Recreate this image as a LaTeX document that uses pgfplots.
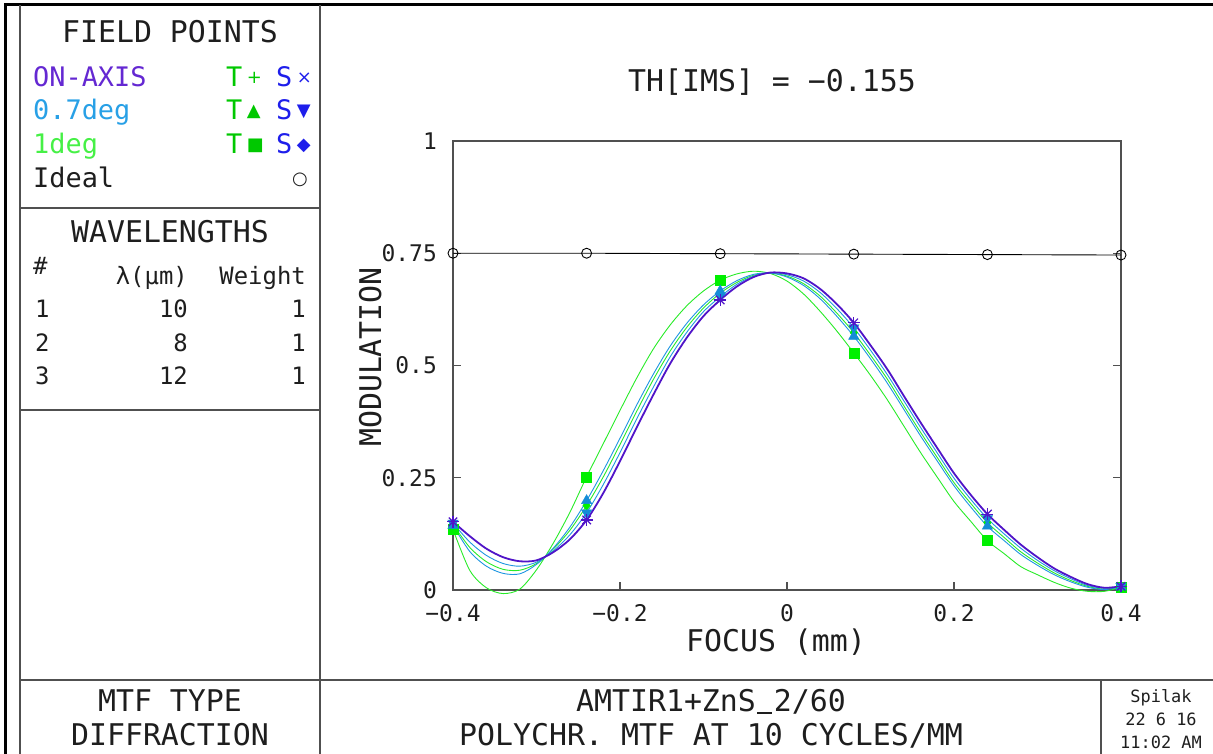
\documentclass[border=0pt]{standalone}
\usepackage{pgfplots}
\usepackage{pgfplotstable}
\pgfplotsset{compat=1.18}
\usepackage{fontspec}
\setmainfont{DejaVu Sans Mono}
\newfontfamily\symfont{DejaVu Sans}

\definecolor{onax}{RGB}{80,20,200}
\definecolor{sev}{RGB}{30,150,225}
\definecolor{one}{RGB}{40,235,40}
\definecolor{onemk}{RGB}{0,240,0}
\definecolor{sevmk}{RGB}{20,140,215}
\definecolor{onaxtxt}{RGB}{100,40,210}
\definecolor{sevtxt}{RGB}{40,160,230}
\definecolor{onetxt}{RGB}{70,240,70}
\definecolor{tgreen}{RGB}{0,200,0}
\definecolor{sblue}{RGB}{30,30,235}
\definecolor{frame}{RGB}{80,80,80}
\definecolor{txt}{RGB}{30,30,30}

\pgfplotstableread{
x P BS GS BT G
-0.40 0.152 0.149 0.146 0.144 0.135
-0.38 0.120 0.107 0.095 0.086 0.044
-0.36 0.092 0.077 0.063 0.053 0.005
-0.34 0.073 0.059 0.046 0.037 -0.008
-0.32 0.064 0.053 0.044 0.036 0.002
-0.30 0.066 0.062 0.059 0.057 0.045
-0.28 0.084 0.087 0.091 0.093 0.104
-0.26 0.113 0.123 0.133 0.140 0.173
-0.24 0.156 0.172 0.188 0.199 0.252
-0.22 0.216 0.235 0.252 0.266 0.326
-0.20 0.287 0.306 0.324 0.338 0.400
-0.18 0.362 0.381 0.398 0.412 0.472
-0.16 0.435 0.452 0.469 0.481 0.537
-0.14 0.504 0.519 0.532 0.543 0.590
-0.12 0.562 0.574 0.585 0.594 0.633
-0.10 0.610 0.620 0.628 0.635 0.666
-0.08 0.646 0.653 0.661 0.666 0.690
-0.06 0.676 0.681 0.685 0.689 0.704
-0.04 0.697 0.699 0.701 0.703 0.710
-0.02 0.707 0.707 0.706 0.706 0.705
0.00 0.705 0.702 0.699 0.697 0.688
0.02 0.694 0.688 0.682 0.678 0.659
0.04 0.670 0.662 0.654 0.648 0.620
0.06 0.636 0.626 0.616 0.609 0.576
0.08 0.595 0.584 0.573 0.565 0.528
0.10 0.545 0.534 0.523 0.515 0.478
0.12 0.492 0.480 0.470 0.461 0.424
0.14 0.432 0.421 0.410 0.402 0.365
0.16 0.373 0.362 0.351 0.343 0.306
0.18 0.316 0.305 0.295 0.287 0.251
0.20 0.260 0.249 0.239 0.232 0.197
0.22 0.212 0.202 0.193 0.185 0.153
0.24 0.169 0.159 0.150 0.142 0.110
0.26 0.134 0.125 0.117 0.110 0.081
0.28 0.101 0.093 0.085 0.079 0.052
0.30 0.073 0.066 0.060 0.055 0.034
0.32 0.048 0.043 0.038 0.034 0.017
0.34 0.029 0.025 0.021 0.018 0.004
0.36 0.013 0.010 0.008 0.006 -0.003
0.38 0.005 0.004 0.002 0.001 -0.003
0.40 0.008 0.008 0.007 0.007 0.006
}\curves

\pgfplotstableread{
x OA BT BS GT GS ID
-0.40 0.152 0.144 0.149 0.135 0.146 0.750
-0.24 0.156 0.199 0.172 0.252 0.188 0.750
-0.08 0.646 0.666 0.653 0.690 0.661 0.749
0.08 0.595 0.565 0.584 0.528 0.573 0.748
0.24 0.169 0.142 0.159 0.110 0.150 0.747
0.40 0.008 0.007 0.008 0.006 0.007 0.746
}\marks

\newcommand{\fbig}{\fontsize{30}{30}\selectfont}
\newcommand{\fmid}{\fontsize{27}{27}\selectfont}
\newcommand{\fsml}{\fontsize{24}{24}\selectfont}
\newcommand{\ftny}{\fontsize{17}{17}\selectfont}
\newcommand{\sy}[1]{\,\raisebox{3bp}{\symfont\fontsize{18}{18}\selectfont #1}}
\newcommand{\us}{\makebox[18bp]{\rule[-2bp]{15bp}{1.6bp}}}

\begin{document}
\begin{tikzpicture}[x=1bp,y=1bp]
\useasboundingbox (0,0) rectangle (1213,754);
% frame
\draw[line width=3bp, black] (5,0) -- (5,749) -- (1213,749);
\draw[line width=1.2bp, frame] (20,0) -- (20,749);
\draw[line width=1.2bp, frame] (320,0) -- (320,749);
\draw[line width=1.2bp, frame] (20,546) -- (320,546);
\draw[line width=1.2bp, frame] (20,344) -- (320,344);
\draw[line width=1.2bp, frame] (20,74) -- (1213,74);
\draw[line width=1.2bp, frame] (1101,0) -- (1101,74);

% field points panel
\node[anchor=base, text=txt, inner sep=0] at (170,711) {\fbig FIELD POINTS};
\node[anchor=base west, text=onaxtxt, inner sep=0] at (33,667) {\fmid ON-AXIS};
\node[anchor=base west, text=sevtxt, inner sep=0] at (33,634) {\fmid 0.7deg};
\node[anchor=base west, text=onetxt, inner sep=0] at (33,600) {\fmid 1deg};
\node[anchor=base west, text=txt, inner sep=0] at (33,566) {\fmid Ideal};
\node[anchor=base west, text=tgreen, inner sep=0] at (226,667) {\fmid T\sy{+}};
\node[anchor=base west, text=sblue, inner sep=0] at (276,667) {\fmid S\sy{×}};
\node[anchor=base west, text=tgreen, inner sep=0] at (226,634) {\fmid T\sy{▲}};
\node[anchor=base west, text=sblue, inner sep=0] at (276,634) {\fmid S\sy{▼}};
\node[anchor=base west, text=tgreen, inner sep=0] at (226,600) {\fmid T\sy{■}};
\node[anchor=base west, text=sblue, inner sep=0] at (276,600) {\fmid S\sy{◆}};
\node[anchor=base, text=txt, inner sep=0] at (300,569) {\symfont\fontsize{18}{18}\selectfont ○};

% wavelengths panel
\node[anchor=base, text=txt, inner sep=0] at (170,511) {\fbig WAVELENGTHS};
\node[anchor=base west, text=txt, inner sep=0] at (33,479) {\fsml \#};
\node[anchor=base east, text=txt, inner sep=0] at (188,469) {\fsml λ(μm)};
\node[anchor=base east, text=txt, inner sep=0] at (306,469) {\fsml Weight};
\node[anchor=base west, text=txt, inner sep=0] at (35,436) {\fsml 1};
\node[anchor=base east, text=txt, inner sep=0] at (188,436) {\fsml 10};
\node[anchor=base east, text=txt, inner sep=0] at (306,436) {\fsml 1};
\node[anchor=base west, text=txt, inner sep=0] at (35,402) {\fsml 2};
\node[anchor=base east, text=txt, inner sep=0] at (188,402) {\fsml 8};
\node[anchor=base east, text=txt, inner sep=0] at (306,402) {\fsml 1};
\node[anchor=base west, text=txt, inner sep=0] at (35,369) {\fsml 3};
\node[anchor=base east, text=txt, inner sep=0] at (188,369) {\fsml 12};
\node[anchor=base east, text=txt, inner sep=0] at (306,369) {\fsml 1};

% bottom boxes
\node[anchor=base, text=txt, inner sep=0] at (170,42) {\fbig MTF TYPE};
\node[anchor=base, text=txt, inner sep=0] at (170,8) {\fbig DIFFRACTION};
\node[anchor=base, text=txt, inner sep=0] at (711,42) {\fbig AMTIR1+ZnS\us 2/60};
\node[anchor=base, text=txt, inner sep=0] at (711,8) {\fbig POLYCHR. MTF AT 10 CYCLES/MM};
\node[anchor=base, text=txt, inner sep=0] at (1161,51) {\ftny Spilak};
\node[anchor=base, text=txt, inner sep=0] at (1161,28) {\ftny 22 6 16};
\node[anchor=base, text=txt, inner sep=0] at (1161,5) {\ftny 11:02 AM};

% plot titles
\node[anchor=base, text=txt, inner sep=0] at (772,662) {\fbig TH[IMS] = −0.155};
\node[anchor=base, text=txt, inner sep=0] at (776,102) {\fbig FOCUS (mm)};
\node[anchor=base, rotate=90, text=txt, inner sep=0] at (381,397) {\fbig MODULATION};

\begin{axis}[
  at={(453bp,164bp)}, anchor=south west,
  scale only axis, width=668bp, height=449bp,
  xmin=-0.4, xmax=0.4, ymin=0, ymax=1,
  clip=false,
  axis line style={frame, line width=1.2bp},
  tick style={frame, line width=1.2bp},
  tick align=inside, major tick length=8bp,
  xtick pos=left, ytick pos=both,
  xtick={-0.4,-0.2,0,0.2,0.4},
  xticklabels={−0.4,−0.2,0,0.2,0.4},
  ytick={0,0.25,0.5,0.75,1},
  yticklabels={0,0.25,0.5,0.75,1},
  ticklabel style={font=\fontsize{23}{23}\selectfont, text=txt, inner sep=2bp},
  yticklabel style={xshift=-14bp},
  xticklabel style={yshift=-12bp},
]
\addplot[black, line width=0.9bp, mark=o, mark size=5bp, mark options={line width=0.9bp}] table[x=x,y=ID] {\marks};
\addplot[one, line width=0.9bp, smooth] table[x=x,y=G] {\curves};
\addplot[one, line width=0.9bp, smooth] table[x=x,y=GS] {\curves};
\addplot[sev, line width=0.9bp, smooth] table[x=x,y=BT] {\curves};
\addplot[sev, line width=0.9bp, smooth] table[x=x,y=BS] {\curves};
\addplot[onax, line width=1.8bp, smooth] table[x=x,y=P] {\curves};
\addplot[only marks, mark=square*, mark size=5bp, color=onemk] table[x=x,y=GT] {\marks};
\addplot[only marks, mark=diamond*, mark size=5bp, color=onemk] table[x=x,y=GS] {\marks};
\addplot[only marks, mark=triangle*, mark size=6bp, color=sevmk] table[x=x,y=BT] {\marks};
\addplot[only marks, mark=triangle*, mark size=6bp, color=sevmk, mark options={rotate=180}] table[x=x,y=BS] {\marks};
\addplot[only marks, mark=+, mark size=6bp, color=onax, mark options={line width=1.2bp}] table[x=x,y=OA] {\marks};
\addplot[only marks, mark=x, mark size=6bp, color=onax, mark options={line width=1.2bp}] table[x=x,y=OA] {\marks};
\end{axis}
\end{tikzpicture}
\end{document}
